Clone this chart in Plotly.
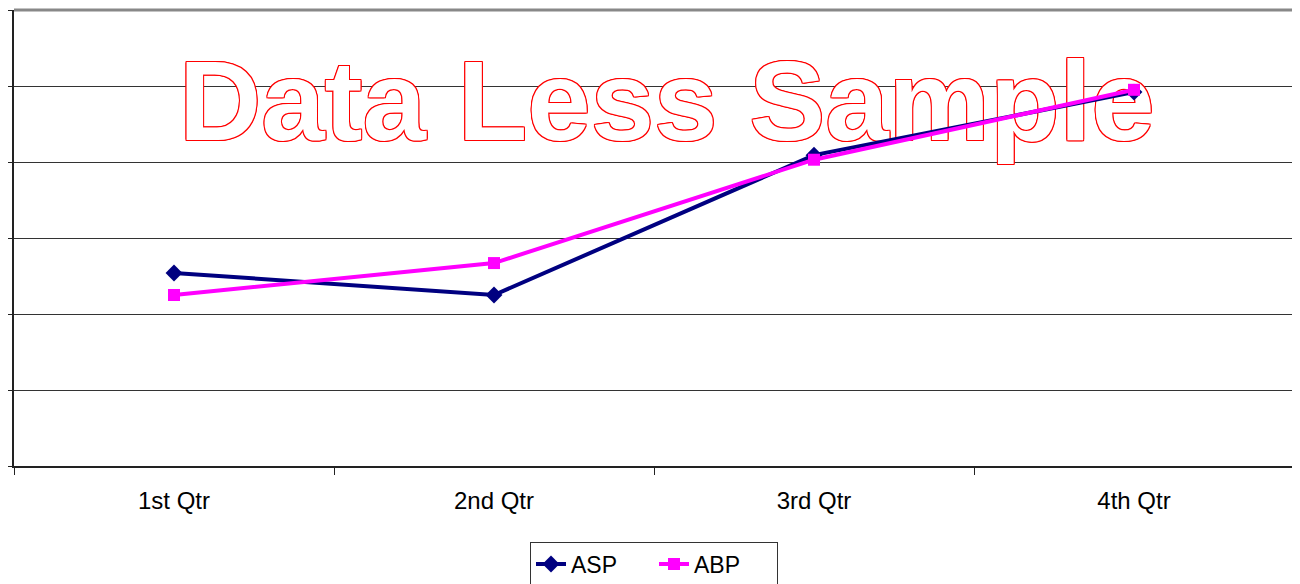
import plotly.graph_objects as go

quarters = ["1st Qtr", "2nd Qtr", "3rd Qtr", "4th Qtr"]
asp = [2.54, 2.25, 4.09, 4.92]
abp = [2.25, 2.67, 4.03, 4.95]
watermark = "Data Less Sample"

FONT = "Liberation Sans, Arial, sans-serif"
xs = list(range(len(quarters)))

outline = ", ".join(
    f"{dx}px {dy}px 0 #ff0000"
    for dx, dy in [(1, 0), (-1, 0), (0, 1), (0, -1), (1, 1), (-1, -1), (1, -1), (-1, 1)]
)

fig = go.Figure()

# watermark sits under the data lines
fig.add_trace(
    go.Scatter(
        x=[1.54],
        y=[4.67],
        mode="text",
        text=[f"<b>{watermark}</b>"],
        textposition="middle center",
        textfont=dict(
            family="Liberation Sans",
            size=114,
            weight=700,
            color="white",
            shadow=outline,
        ),
        showlegend=False,
        hoverinfo="skip",
    )
)

fig.add_trace(
    go.Scatter(
        x=xs,
        y=asp,
        name="ASP",
        mode="lines+markers",
        line=dict(color="#000080", width=4),
        marker=dict(symbol="diamond", size=13, color="#000080"),
    )
)
fig.add_trace(
    go.Scatter(
        x=xs,
        y=abp,
        name="ABP",
        mode="lines+markers",
        line=dict(color="#ff00ff", width=4),
        marker=dict(symbol="square", size=12, color="#ff00ff"),
    )
)

# page body adds an 8px offset, so the figure is a bit smaller than the window
fig.update_layout(
    width=1292,
    height=576,
    margin=dict(l=6, r=6, t=2, b=118, autoexpand=False),
    paper_bgcolor="white",
    plot_bgcolor="white",
    font=dict(family=FONT, size=24, color="black"),
    legend=dict(
        orientation="h",
        x=0.5,
        xanchor="center",
        y=-0.215,
        yanchor="middle",
        bordercolor="#333333",
        borderwidth=1,
        font=dict(size=23),
        entrywidth=78,
        tracegroupgap=0,
    ),
    shapes=[
        dict(type="line", xref="paper", yref="paper", x0=0, x1=1, y0=1, y1=1,
             line=dict(color="#888888", width=3)),
        dict(type="line", xref="paper", yref="paper", x0=1, x1=1, y0=0, y1=1,
             line=dict(color="#888888", width=3)),
    ],
)

fig.update_xaxes(
    range=[-0.5, 3.5],
    tickmode="array",
    tickvals=xs,
    ticktext=quarters,
    ticks="",
    showgrid=False,
    zeroline=False,
    showline=True,
    linecolor="#222222",
    linewidth=2,
    automargin=False,
    ticklabelstandoff=12,
    minor=dict(tick0=0.5, dtick=1, ticks="outside", ticklen=7, tickcolor="#222222",
               tickwidth=1, showgrid=False),
)
fig.update_yaxes(
    range=[0, 6],
    dtick=1,
    showticklabels=False,
    ticks="outside",
    ticklen=7,
    tickcolor="#222222",
    showgrid=True,
    gridcolor="#333333",
    gridwidth=1,
    zeroline=False,
    showline=True,
    linecolor="#222222",
    linewidth=2,
    automargin=False,
)

fig.write_html("out.html")
